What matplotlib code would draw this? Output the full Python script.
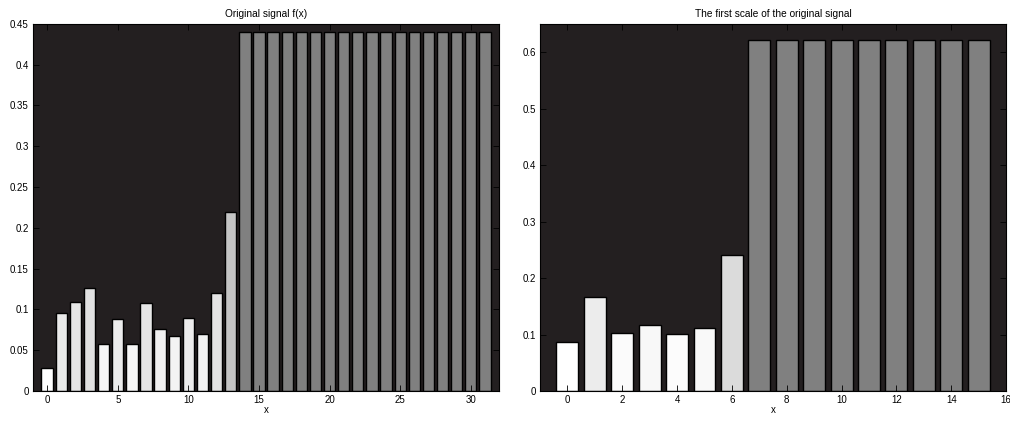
import numpy as np
import matplotlib
matplotlib.use("Agg")
import matplotlib.pyplot as plt

plt.rcParams['font.family'] = ['Liberation Sans', 'DejaVu Sans']
plt.rcParams['font.size'] = 7

# original signal f(x), 32 samples
signal = [0.028, 0.095, 0.109, 0.126, 0.058, 0.088, 0.058, 0.108,
          0.076, 0.067, 0.090, 0.070, 0.120, 0.220,
          0.44, 0.44, 0.44, 0.44, 0.44, 0.44, 0.44, 0.44, 0.44,
          0.44, 0.44, 0.44, 0.44, 0.44, 0.44, 0.44, 0.44, 0.44]

# first scale (approximation) of the signal, 16 samples
scale1 = [0.087, 0.166, 0.102, 0.116, 0.101, 0.112, 0.240,
          0.622, 0.622, 0.622, 0.622, 0.622, 0.622, 0.622, 0.622, 0.622]


def shade(vals):
    # gray level runs from white (smallest) to mid gray (largest)
    v = np.asarray(vals)
    g = 1 - 0.5 * (v - v.min()) / (v.max() - v.min())
    return [(c, c, c) for c in g]


def draw(ax, vals, title, xlim, ylim, xticks, yticks, yticklabels):
    ax.set_facecolor('#231f20')
    ax.bar(np.arange(len(vals)), vals, width=0.8, color=shade(vals),
           edgecolor='black', linewidth=1.0)
    ax.set_xlim(*xlim)
    ax.set_ylim(*ylim)
    ax.set_xticks(xticks)
    ax.set_yticks(yticks)
    ax.set_yticklabels(yticklabels)
    ax.tick_params(direction='in', length=4, width=0.6, top=True, right=True,
                   color='black', pad=3)
    for s in ax.spines.values():
        s.set_linewidth(0.8)
    ax.set_title(title, fontsize=7.3, pad=5)
    ax.set_xlabel('x', fontsize=7, labelpad=0)


fig = plt.figure(figsize=(10.10, 4.21), dpi=100)
ax1 = fig.add_axes([0.0327, 0.0713, 0.4614, 0.872])
ax2 = fig.add_axes([0.5347, 0.0713, 0.4614, 0.872])

draw(ax1, signal, 'Original signal f(x)', (-1, 32), (0, 0.45),
     [0, 5, 10, 15, 20, 25, 30],
     np.arange(0, 0.451, 0.05),
     ['0', '0.05', '0.1', '0.15', '0.2', '0.25', '0.3', '0.35', '0.4', '0.45'])

draw(ax2, scale1, 'The first scale of the original signal', (-1, 16), (0, 0.65),
     [0, 2, 4, 6, 8, 10, 12, 14, 16],
     np.arange(0, 0.61, 0.1),
     ['0', '0.1', '0.2', '0.3', '0.4', '0.5', '0.6'])

fig.savefig('out.png', dpi=100, facecolor='white')
